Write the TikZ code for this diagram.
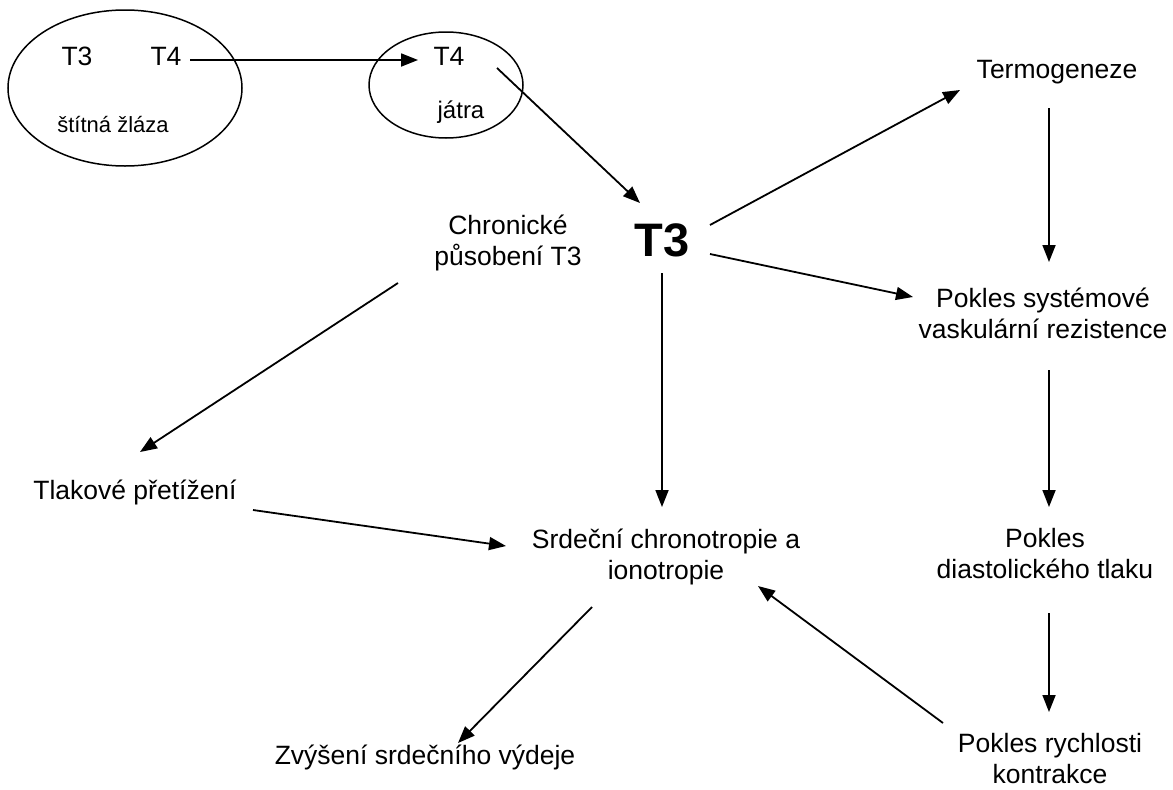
\documentclass[tikz,border=0pt]{standalone}
\usepackage{fontspec}
\setmainfont{Liberation Sans}
\usetikzlibrary{arrows.meta,shapes.geometric}

\tikzset{
  lbl/.style={inner sep=0pt, align=center, font=\fontsize{26.5}{31}\selectfont},
  smalllbl/.style={inner sep=0pt, font=\fontsize{22}{26}\selectfont},
  biglbl/.style={inner sep=0pt, font=\fontsize{47}{50}\selectfont\bfseries},
  organ/.style={draw, ellipse, line width=1.5pt, inner sep=0pt},
  arr/.style={-{Triangle[length=17pt,width=13pt]}, line width=1.8pt}
}

\begin{document}
\begin{tikzpicture}[x=1pt, y=-1pt]
\useasboundingbox (0,0) rectangle (1173,790);

% organs
\node[organ, minimum width=234pt, minimum height=156pt] (thyroid) at (125,88) {};
\node[organ, minimum width=154pt, minimum height=106pt] (liver) at (446,85) {};

\node[lbl] (t3a) at (77,56) {T3};
\node[lbl] (t4a) at (166,56) {T4};
\node[smalllbl] (stit) at (113,125) {štítná žláza};
\node[lbl] (t4b) at (449,56) {T4};
\node[smalllbl, font=\fontsize{24}{28}\selectfont] (jatra) at (461,112) {játra};

% central hormone
\node[biglbl] (t3) at (662,240) {T3};

% effects
\node[lbl] (chron) at (508,243) {Chronické\\působení T3};
\node[lbl] (termo) at (1057,72) {Termogeneze};
\node[lbl] (psvr) at (1043,313) {Pokles systémové\\vaskulární rezistence};
\node[lbl] (pdt) at (1045,554) {Pokles\\diastolického tlaku};
\node[lbl] (prk) at (1050,759) {Pokles rychlosti\\kontrakce};
\node[lbl] (srd) at (666,557) {Srdeční chronotropie a\\ionotropie};
\node[lbl] (tlak) at (135,492) {Tlakové přetížení};
\node[lbl] (zvys) at (425,757) {Zvýšení srdečního výdeje};

% connectors
\draw[arr] ([shift={(24,4)}]t4a.center) -- ([shift={(-31,4)}]t4b.center);
\draw[arr] ([shift={(48,12)}]t4b.center) -- ([shift={(-22,-37)}]t3.center);
\draw[arr] ([shift={(48,-15)}]t3.center) -- ([shift={(-97,18)}]termo.center);
\draw[arr] ([shift={(48,14)}]t3.center) -- ([shift={(-130,-16)}]psvr.center);
\draw[arr] ([shift={(0,33)}]t3.center) -- ([shift={(-4,-50)}]srd.center);
\draw[arr] ([shift={(-110,40)}]chron.center) -- ([shift={(5,-40)}]tlak.center);
\draw[arr] ([shift={(118,18)}]tlak.center) -- ([shift={(-160,-11)}]srd.center);
\draw[arr] ([shift={(-74,50)}]srd.center) -- ([shift={(33,-14)}]zvys.center);
\draw[arr] ([shift={(-107,-36)}]prk.center) -- ([shift={(92,29)}]srd.center);
\draw[arr] ([shift={(-8,36)}]termo.center) -- ([shift={(6,-51)}]psvr.center);
\draw[arr] ([shift={(6,57)}]psvr.center) -- ([shift={(4,-47)}]pdt.center);
\draw[arr] ([shift={(4,59)}]pdt.center) -- ([shift={(-1,-47)}]prk.center);
\end{tikzpicture}
\end{document}
